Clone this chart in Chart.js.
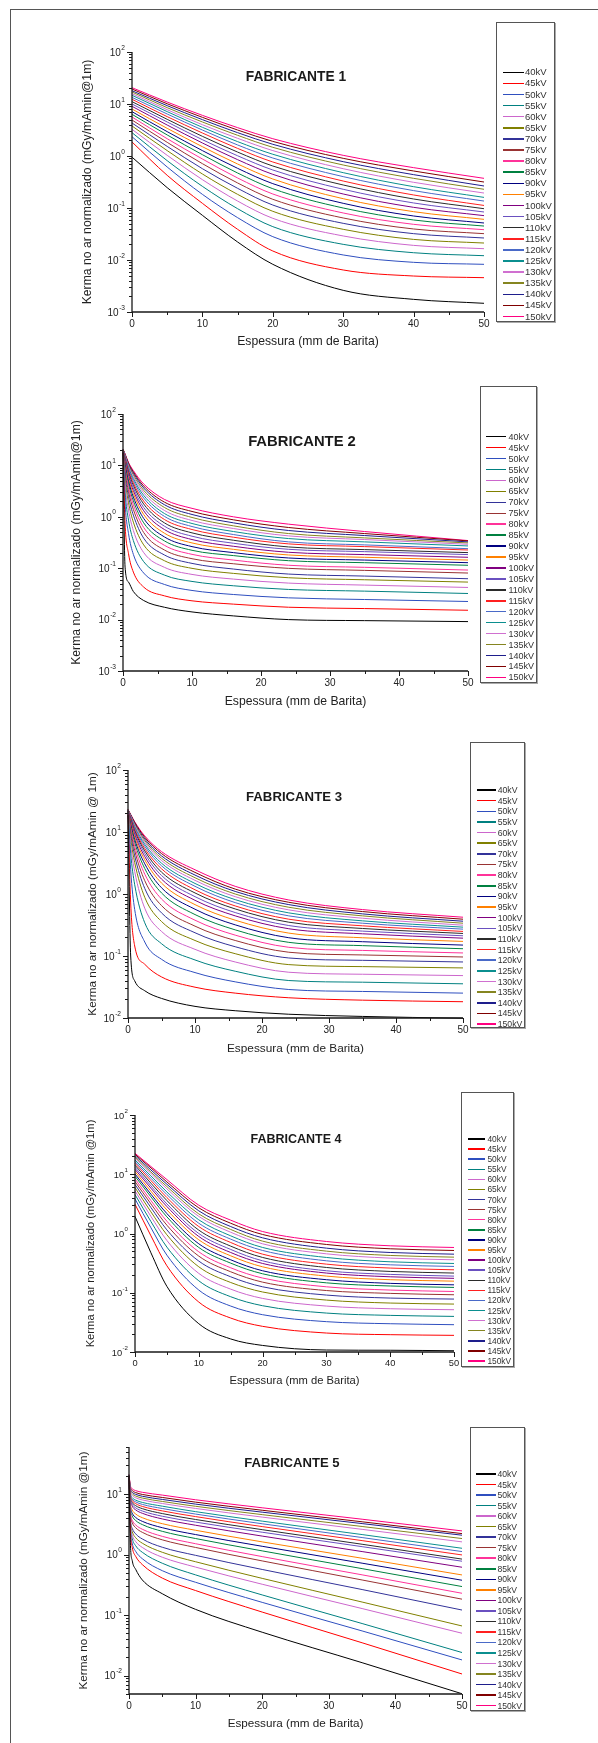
<!DOCTYPE html>
<html>
<head>
<meta charset="utf-8">
<script src="https://cdn.jsdelivr.net/npm/chart.js@4.4.1/dist/chart.umd.min.js"></script>
<style>
  html, body { margin: 0; padding: 0; background: #fff; }
  body { width: 598px; height: 1743px; position: relative; overflow: hidden;
         font-family: "Liberation Sans", Arial, Helvetica, sans-serif; }
  #moldura { position: absolute; left: 10px; top: 9px; width: 620px; height: 1800px;
             border-left: 1.5px solid #555; border-top: 1.5px solid #555; }
  canvas { position: absolute; }
  .titulo { position: absolute; font-weight: bold; color: #1a1a1a; white-space: nowrap;
            transform: translate(-50%, -50%); line-height: 1; }
  .legenda { position: absolute; border: 1.5px solid #555; box-sizing: border-box; background: #fff;
             box-shadow: 1px 1px 0 #aaa; }
  .leg-txt { position: absolute; white-space: nowrap; color: #333; line-height: 1; transform: translateY(-50%); }
  .leg-lin { position: absolute; height: 1.5px; }
</style>
</head>
<body>
<div id="moldura"></div>
<script>
// ---- dados ----

const kvRotulos = ['40kV','45kV','50kV','55kV','60kV','65kV','70kV','75kV','80kV','85kV','90kV','95kV',
                   '100kV','105kV','110kV','115kV','120kV','125kV','130kV','135kV','140kV','145kV','150kV'];
const kvCores = ['#000000','#ff0000','#2f4fbf','#008080','#cc66cc','#808000','#333399','#993333',
                 '#ff3399','#008040','#000080','#ff8000','#800080','#6a50c0','#2b2b2b','#ff2020',
                 '#4a6ac8','#0b8f8f','#d070d0','#858520','#1e1e8c','#800000','#ff0080'];

const espessuraRotulos = [0, 10, 20, 30, 40, 50];

// FABRICANTE 1
const fab1Espessura = [0, 5, 10, 15, 20, 30, 40, 50];
const fab1Kerma = [
  [0.95, 0.246, 0.0723, 0.0222, 0.00826, 0.00261, 0.00175, 0.00147], // 40kV
  [1.86, 0.425, 0.123, 0.0389, 0.0149, 0.00643, 0.00492, 0.00457],
  [2.35, 0.614, 0.183, 0.0652, 0.0281, 0.0125, 0.00902, 0.00826],
  [2.81, 0.813, 0.261, 0.097, 0.0438, 0.02, 0.0138, 0.0121],
  [3.26, 1.03, 0.351, 0.136, 0.0633, 0.029, 0.0191, 0.0165],
  [3.78, 1.27, 0.451, 0.183, 0.0863, 0.0389, 0.0249, 0.0212],
  [4.31, 1.53, 0.57, 0.239, 0.114, 0.0507, 0.0321, 0.0265],
  [4.92, 1.83, 0.712, 0.303, 0.147, 0.0643, 0.0395, 0.0321],
  [5.62, 2.15, 0.876, 0.378, 0.186, 0.0802, 0.0485, 0.0383],
  [6.33, 2.54, 1.06, 0.471, 0.235, 0.1, 0.0588, 0.045],
  [7.12, 2.94, 1.27, 0.579, 0.294, 0.123, 0.0702, 0.0515],
  [8.01, 3.4, 1.51, 0.702, 0.361, 0.151, 0.085, 0.0605],
  [9.02, 3.94, 1.78, 0.85, 0.444, 0.186, 0.103, 0.0713],   // 100kV
  [10.0, 4.51, 2.06, 1.01, 0.538, 0.229, 0.125, 0.0838],
  [11.1, 5.07, 2.39, 1.19, 0.642, 0.277, 0.149, 0.097],
  [12.3, 5.71, 2.77, 1.4, 0.767, 0.33, 0.178, 0.112],
  [13.4, 6.42, 3.16, 1.63, 0.915, 0.401, 0.216, 0.136],
  [14.7, 7.13, 3.56, 1.89, 1.08, 0.478, 0.257, 0.16],
  [15.8, 7.78, 4.0, 2.19, 1.27, 0.57, 0.312, 0.194],
  [17.0, 8.5, 4.51, 2.5, 1.47, 0.671, 0.372, 0.229],
  [18.0, 9.29, 5.0, 2.81, 1.68, 0.778, 0.438, 0.265],
  [19.4, 10.1, 5.54, 3.16, 1.91, 0.902, 0.515, 0.316],
  [20.6, 10.9, 6.05, 3.51, 2.15, 1.03, 0.597, 0.372]      // 150kV
];

// FABRICANTE 2
const fab2Espessura = [0, 0.3, 0.8, 1.5, 3, 6, 10, 16, 24, 35, 50];
const fab2Kerma = [
  [17.8, 0.105, 0.0537, 0.0352, 0.0235, 0.0174, 0.0141, 0.0118, 0.01, 0.00955, 0.00914], // 40kV
  [18.1, 0.741, 0.192, 0.0841, 0.0429, 0.029, 0.0232, 0.02, 0.0174, 0.0164, 0.0152],
  [18.1, 1.82, 0.472, 0.186, 0.0805, 0.0483, 0.0369, 0.0308, 0.0265, 0.0246, 0.0225],
  [18.4, 2.99, 0.861, 0.345, 0.134, 0.0735, 0.0553, 0.0455, 0.0386, 0.0358, 0.0322],
  [18.4, 4.16, 1.35, 0.541, 0.201, 0.104, 0.0757, 0.0614, 0.0513, 0.0469, 0.0422],
  [18.6, 5.37, 1.88, 0.787, 0.284, 0.14, 0.0993, 0.0793, 0.0652, 0.0596, 0.0537],
  [18.6, 6.52, 2.46, 1.08, 0.383, 0.181, 0.124, 0.0963, 0.0769, 0.0703, 0.0624],
  [18.9, 7.57, 3.08, 1.39, 0.494, 0.226, 0.153, 0.122, 0.0993, 0.0907, 0.0805],
  [18.9, 8.54, 3.69, 1.72, 0.619, 0.279, 0.186, 0.144, 0.114, 0.104, 0.092],
  [19.2, 9.49, 4.28, 2.05, 0.763, 0.34, 0.223, 0.176, 0.14, 0.128, 0.114],
  [19.2, 10.4, 4.91, 2.42, 0.928, 0.406, 0.263, 0.201, 0.158, 0.144, 0.128],
  [19.5, 11.2, 5.53, 2.82, 1.11, 0.48, 0.31, 0.233, 0.181, 0.163, 0.144],
  [19.5, 11.9, 6.14, 3.22, 1.31, 0.566, 0.361, 0.267, 0.204, 0.184, 0.163],   // 100kV
  [19.5, 12.6, 6.72, 3.63, 1.52, 0.657, 0.419, 0.306, 0.233, 0.21, 0.184],
  [19.8, 13.2, 7.35, 4.1, 1.77, 0.763, 0.487, 0.35, 0.259, 0.23, 0.201],
  [19.8, 13.8, 7.93, 4.55, 2.02, 0.887, 0.566, 0.401, 0.297, 0.263, 0.226],
  [20.1, 14.5, 8.54, 5.05, 2.32, 1.02, 0.647, 0.452, 0.325, 0.284, 0.24],
  [20.1, 14.9, 9.07, 5.53, 2.61, 1.16, 0.741, 0.517, 0.377, 0.325, 0.271],
  [20.1, 15.3, 9.63, 6.05, 2.94, 1.33, 0.848, 0.592, 0.425, 0.361, 0.292],
  [20.4, 15.8, 10.1, 6.52, 3.27, 1.52, 0.97, 0.667, 0.472, 0.389, 0.31],
  [20.4, 16.0, 10.5, 7.03, 3.63, 1.72, 1.11, 0.763, 0.541, 0.432, 0.325],
  [20.7, 16.5, 11.0, 7.46, 3.97, 1.93, 1.27, 0.874, 0.619, 0.472, 0.34],
  [20.7, 16.8, 11.4, 7.93, 4.35, 2.18, 1.46, 1.0, 0.719, 0.517, 0.345]       // 150kV
];

// FABRICANTE 3
const fab3Espessura = [0, 0.4, 1, 2.5, 5, 10, 16, 24, 35, 50];
const fab3Kerma = [
  [18.7, 0.1, 0.0397, 0.0275, 0.0207, 0.0154, 0.0131, 0.0115, 0.0106, 0.0099], // 40kV
  [19.4, 0.717, 0.145, 0.0735, 0.046, 0.0314, 0.0252, 0.0212, 0.0194, 0.0183],
  [19.9, 2.46, 0.561, 0.168, 0.0885, 0.054, 0.0383, 0.0288, 0.0268, 0.0252],
  [20.2, 4.55, 1.41, 0.343, 0.158, 0.0863, 0.0568, 0.0402, 0.0378, 0.0356],
  [20.4, 6.26, 2.31, 0.589, 0.249, 0.128, 0.0801, 0.0547, 0.0508, 0.0483],
  [20.7, 7.82, 3.22, 0.884, 0.36, 0.178, 0.109, 0.0726, 0.0674, 0.0642],
  [20.9, 9.18, 4.12, 1.23, 0.496, 0.237, 0.141, 0.0929, 0.0852, 0.0801],
  [21.2, 10.4, 5.02, 1.64, 0.65, 0.303, 0.178, 0.115, 0.104, 0.0964],
  [21.2, 11.5, 5.89, 2.09, 0.831, 0.378, 0.217, 0.138, 0.123, 0.112],
  [21.5, 12.5, 6.74, 2.58, 1.04, 0.466, 0.264, 0.166, 0.147, 0.131],
  [21.5, 13.4, 7.53, 3.07, 1.26, 0.568, 0.318, 0.197, 0.17, 0.15],
  [21.7, 14.3, 8.31, 3.56, 1.5, 0.674, 0.378, 0.234, 0.197, 0.172],
  [21.7, 15.0, 9.06, 4.02, 1.74, 0.791, 0.444, 0.275, 0.228, 0.194],   // 100kV
  [22.0, 15.6, 9.75, 4.49, 1.99, 0.906, 0.502, 0.31, 0.252, 0.212],
  [22.0, 16.2, 10.4, 4.96, 2.25, 1.04, 0.574, 0.351, 0.278, 0.231],
  [22.3, 16.8, 11.0, 5.4, 2.55, 1.17, 0.642, 0.392, 0.307, 0.249],
  [22.3, 17.2, 11.6, 5.89, 2.85, 1.33, 0.726, 0.444, 0.338, 0.271],
  [22.5, 17.6, 12.2, 6.34, 3.14, 1.48, 0.811, 0.496, 0.369, 0.292],
  [22.5, 18.1, 12.8, 6.83, 3.47, 1.66, 0.906, 0.554, 0.407, 0.314],
  [22.8, 18.3, 13.3, 7.26, 3.78, 1.83, 1.0, 0.611, 0.444, 0.338],
  [22.8, 18.7, 13.8, 7.72, 4.12, 2.02, 1.1, 0.674, 0.478, 0.364],
  [23.1, 19.0, 14.3, 8.21, 4.49, 2.23, 1.2, 0.735, 0.521, 0.392],
  [23.1, 19.2, 14.6, 8.63, 4.83, 2.46, 1.33, 0.801, 0.561, 0.422]      // 150kV
];

// FABRICANTE 4
const fab4Espessura = [0, 2.5, 5, 10, 15, 20, 30, 40, 50];
const fab4Kerma = [
  [1.94, 0.472, 0.128, 0.03, 0.0166, 0.0129, 0.0108, 0.0107, 0.0105], // 40kV
  [3.12, 0.913, 0.285, 0.0696, 0.0374, 0.0271, 0.0209, 0.0196, 0.0191],
  [3.84, 1.25, 0.431, 0.111, 0.0596, 0.0426, 0.0325, 0.03, 0.0289],
  [4.54, 1.59, 0.589, 0.159, 0.0857, 0.0604, 0.0454, 0.0415, 0.0399],
  [5.24, 1.94, 0.762, 0.212, 0.115, 0.0802, 0.0596, 0.0537, 0.0517],
  [5.96, 2.32, 0.95, 0.274, 0.149, 0.103, 0.0752, 0.067, 0.0644],
  [6.7, 2.74, 1.15, 0.342, 0.186, 0.126, 0.0914, 0.0813, 0.0782],
  [7.52, 3.16, 1.38, 0.415, 0.226, 0.151, 0.109, 0.0975, 0.0925],
  [8.34, 3.6, 1.61, 0.491, 0.264, 0.177, 0.126, 0.111, 0.105],
  [9.25, 4.15, 1.91, 0.581, 0.316, 0.209, 0.147, 0.13, 0.123],
  [10.1, 4.6, 2.17, 0.67, 0.36, 0.235, 0.166, 0.144, 0.136],
  [11.1, 5.17, 2.5, 0.782, 0.42, 0.274, 0.191, 0.166, 0.157],
  [12.1, 5.81, 2.85, 0.89, 0.478, 0.312, 0.215, 0.186, 0.175],   // 100kV
  [13.1, 6.36, 3.16, 1.0, 0.538, 0.346, 0.235, 0.204, 0.191],
  [14.2, 7.05, 3.6, 1.14, 0.612, 0.394, 0.267, 0.229, 0.215],
  [15.3, 7.82, 4.04, 1.31, 0.705, 0.448, 0.304, 0.261, 0.244],
  [16.3, 8.57, 4.54, 1.49, 0.803, 0.517, 0.346, 0.296, 0.278],
  [17.4, 9.38, 5.04, 1.7, 0.913, 0.581, 0.394, 0.333, 0.312],
  [18.6, 10.3, 5.66, 1.94, 1.05, 0.67, 0.454, 0.384, 0.36],
  [19.6, 10.9, 6.2, 2.14, 1.17, 0.743, 0.504, 0.426, 0.399],
  [20.6, 11.8, 6.78, 2.41, 1.31, 0.845, 0.566, 0.478, 0.448],
  [21.7, 12.8, 7.42, 2.71, 1.49, 0.962, 0.653, 0.552, 0.517],
  [22.6, 13.5, 8.13, 3.0, 1.68, 1.08, 0.733, 0.62, 0.581]      // 150kV
];

// FABRICANTE 5
const fab5Espessura = [0, 0.2, 0.5, 1, 2, 5, 10, 20, 35, 50];
const fab5Kerma = [
  [19.95, 1.6, 0.78, 0.57, 0.38, 0.225, 0.124, 0.052, 0.0163, 0.005], // 40kV
  [19.95, 2.53, 1.3, 0.935, 0.682, 0.408, 0.254, 0.112, 0.0348, 0.0106],
  [19.95, 2.74, 1.52, 1.13, 0.853, 0.541, 0.348, 0.162, 0.0546, 0.0181],
  [20.0, 3.12, 1.83, 1.4, 1.09, 0.718, 0.461, 0.215, 0.0724, 0.024],
  [20.0, 3.37, 2.09, 1.64, 1.31, 0.903, 0.62, 0.323, 0.128, 0.05],
  [20.1, 3.69, 2.37, 1.9, 1.54, 1.09, 0.76, 0.404, 0.164, 0.066],
  [20.1, 4.04, 2.69, 2.2, 1.81, 1.32, 0.97, 0.567, 0.264, 0.121],
  [20.2, 4.83, 3.34, 2.78, 2.33, 1.75, 1.31, 0.785, 0.38, 0.183],
  [20.2, 5.22, 3.68, 3.09, 2.62, 2.0, 1.51, 0.925, 0.462, 0.229],
  [20.3, 6.01, 4.32, 3.66, 3.13, 2.42, 1.84, 1.15, 0.585, 0.296],
  [20.3, 6.58, 4.81, 4.11, 3.54, 2.78, 2.14, 1.37, 0.72, 0.376],
  [20.4, 7.29, 5.43, 4.69, 4.07, 3.24, 2.52, 1.62, 0.869, 0.46],
  [20.4, 8.3, 6.3, 5.48, 4.81, 3.88, 3.05, 2.02, 1.12, 0.617],    // 100kV
  [20.5, 8.73, 6.75, 5.93, 5.25, 4.3, 3.44, 2.34, 1.35, 0.776],
  [20.5, 9.2, 7.24, 6.43, 5.74, 4.76, 3.8, 2.58, 1.48, 0.841],
  [20.6, 9.68, 7.76, 6.95, 6.25, 5.27, 4.24, 2.9, 1.7, 0.985],
  [20.6, 10.1, 8.22, 7.43, 6.75, 5.77, 4.67, 3.23, 1.91, 1.12],
  [20.7, 10.5, 8.71, 7.94, 7.28, 6.31, 5.12, 3.57, 2.14, 1.27],
  [20.7, 11.3, 9.48, 8.69, 8.0, 6.98, 5.78, 4.16, 2.61, 1.62],
  [20.7, 11.9, 10.1, 9.29, 8.59, 7.55, 6.28, 4.57, 2.91, 1.84],
  [20.8, 12.5, 10.7, 9.91, 9.2, 8.15, 6.82, 5.02, 3.25, 2.09],
  [20.9, 13.2, 11.4, 10.6, 9.86, 8.79, 7.35, 5.4, 3.48, 2.22],
  [20.9, 13.9, 12.2, 11.4, 10.7, 9.62, 8.05, 5.93, 3.84, 2.46]     // 150kV
];

// ---- desenho ----

const FONTE = '"Liberation Sans", Arial, Helvetica, sans-serif';
Chart.defaults.font.family = FONTE;
Chart.defaults.color = '#222';

// eixos estilo Origin: linhas, ticks maiores/menores e rotulos 10^n
const eixoOrigin = {
  id: 'eixoOrigin',
  afterDraw(chart, args, o) {
    const {ctx, chartArea: a, scales: {x, y}} = chart;
    ctx.save();
    ctx.strokeStyle = '#1a1a1a';
    ctx.lineWidth = 1;
    const e0 = Math.floor(Math.log10(y.min) + 1e-9);
    const e1 = Math.floor(Math.log10(y.max) + 1e-9);
    for (let e = e0; e <= e1; e++) {
      for (let m = 1; m <= 9; m++) {
        const v = m * Math.pow(10, e);
        if (v < y.min * 0.999 || v > y.max * 1.001) continue;
        const py = Math.round(y.getPixelForValue(v)) + 0.5;
        const len = m === 1 ? 5 : 3;
        ctx.beginPath(); ctx.moveTo(a.left - len, py); ctx.lineTo(a.left, py); ctx.stroke();
      }
    }
    for (let v = 0; v <= 50; v += 5) {
      const px = Math.round(x.getPixelForValue(v)) + 0.5;
      const len = espessuraRotulos.includes(v) ? 5 : 3;
      ctx.beginPath(); ctx.moveTo(px, a.bottom); ctx.lineTo(px, a.bottom + len); ctx.stroke();
    }
    ctx.lineWidth = 1.3;
    ctx.beginPath();
    ctx.moveTo(a.left, a.top); ctx.lineTo(a.left, a.bottom); ctx.lineTo(a.right, a.bottom);
    ctx.stroke();

    ctx.fillStyle = '#222';
    ctx.textBaseline = 'middle';
    ctx.textAlign = 'right';
    o.expoentes.forEach(e => {
      const py = y.getPixelForValue(Math.pow(10, e));
      const sup = String(e);
      ctx.font = (o.fonte * 0.66).toFixed(1) + 'px ' + FONTE;
      const ws = ctx.measureText(sup).width;
      const xr = a.left - 7;
      ctx.fillText(sup, xr, py - o.fonte * 0.42);
      ctx.font = o.fonte + 'px ' + FONTE;
      ctx.fillText('10', xr - ws - 0.5, py + 1);
    });
    ctx.restore();
  }
};

function montaPainel(p) {
  const cv = document.createElement('canvas');
  cv.width = p.cw; cv.height = p.ch;
  cv.style.left = p.cx + 'px';
  cv.style.top = p.cy + 'px';
  document.body.appendChild(cv);

  const datasets = p.kerma.map((serie, i) => ({
    label: kvRotulos[i],
    data: p.espessura.map((e, j) => ({x: e, y: serie[j]})),
    borderColor: kvCores[i],
    borderWidth: 1,
    pointRadius: 0,
    fill: false,
    cubicInterpolationMode: 'monotone',
    clip: 4
  }));

  new Chart(cv, {
    type: 'line',
    data: {datasets},
    options: {
      responsive: false,
      animation: false,
      devicePixelRatio: 1,
      events: [],
      layout: {padding: {left: 0, right: p.padR, top: p.padT, bottom: 0}},
      plugins: {
        legend: {display: false},
        tooltip: {enabled: false},
        eixoOrigin: {expoentes: p.expoentes, fonte: p.tickFs}
      },
      scales: {
        x: {
          type: 'linear', min: 0, max: 50,
          grid: {display: false, drawTicks: false},
          border: {display: false},
          ticks: {
            stepSize: 5, autoSkip: false, maxRotation: 0, padding: 6,
            font: {size: p.tickFs}, color: '#222',
            callback: v => espessuraRotulos.includes(v) ? String(v) : ''
          },
          title: {display: true, text: 'Espessura (mm de Barita)', color: '#222',
                  font: {size: p.tituloFs}, padding: 0},
          afterFit: s => { s.height = p.xH; }
        },
        y: {
          type: 'logarithmic', min: p.yMin, max: p.yMax,
          grid: {display: false, drawTicks: false},
          border: {display: false},
          ticks: {display: false},
          title: {display: true, text: p.yTitulo, color: '#222',
                  font: {size: p.tituloFs}, padding: 0},
          afterFit: s => { s.width = p.yW; }
        }
      }
    },
    plugins: [eixoOrigin]
  });

  const t = document.createElement('div');
  t.className = 'titulo';
  t.textContent = p.nome;
  t.style.left = p.nomeX + 'px';
  t.style.top = p.nomeY + 'px';
  t.style.fontSize = p.nomeFs + 'px';
  document.body.appendChild(t);

  const lg = p.leg;
  const caixa = document.createElement('div');
  caixa.className = 'legenda';
  Object.assign(caixa.style, {left: lg.x + 'px', top: lg.y + 'px', width: lg.w + 'px', height: lg.h + 'px'});
  document.body.appendChild(caixa);
  kvRotulos.forEach((r, i) => {
    const yc = lg.primeiro + i * lg.passo;
    const ln = document.createElement('div');
    ln.className = 'leg-lin';
    Object.assign(ln.style, {left: lg.l0 + 'px', top: (yc - 0.75) + 'px', width: (lg.l1 - lg.l0) + 'px',
                             background: kvCores[i]});
    document.body.appendChild(ln);
    const tx = document.createElement('div');
    tx.className = 'leg-txt';
    tx.textContent = r;
    Object.assign(tx.style, {left: lg.tx + 'px', top: yc + 'px', fontSize: lg.fs + 'px'});
    document.body.appendChild(tx);
  });
}

montaPainel({
  nome: 'FABRICANTE 1', nomeX: 296, nomeY: 77, nomeFs: 13.8,
  espessura: fab1Espessura, kerma: fab1Kerma,
  yMin: 1e-3, yMax: 100, expoentes: [-3, -2, -1, 0, 1, 2],
  yTitulo: 'Kerma no ar normalizado (mGy/mAmin@1m)',
  cx: 80, cy: 32, cw: 424, ch: 317, yW: 52, xH: 37, padT: 20, padR: 20,
  tickFs: 10, tituloFs: 12.2,
  leg: {x: 496, y: 22, w: 59, h: 300, primeiro: 72.3, passo: 11.1, l0: 503, l1: 523.5, tx: 525, fs: 9.5}
});
montaPainel({
  nome: 'FABRICANTE 2', nomeX: 302, nomeY: 441, nomeFs: 14.8,
  espessura: fab2Espessura, kerma: fab2Kerma,
  yMin: 1e-3, yMax: 100, expoentes: [-3, -2, -1, 0, 1, 2],
  yTitulo: 'Kerma no ar normalizado (mGy/mAmin@1m)',
  cx: 69, cy: 394, cw: 419, ch: 315, yW: 54, xH: 38, padT: 20, padR: 20,
  tickFs: 10, tituloFs: 12.2,
  leg: {x: 479.5, y: 386, w: 57.5, h: 296.5, primeiro: 436.7, passo: 10.94, l0: 486.3, l1: 506.5, tx: 508.4, fs: 9}
});
montaPainel({
  nome: 'FABRICANTE 3', nomeX: 294, nomeY: 797, nomeFs: 13.2,
  espessura: fab3Espessura, kerma: fab3Kerma,
  yMin: 1e-2, yMax: 100, expoentes: [-2, -1, 0, 1, 2],
  yTitulo: 'Kerma no ar normalizado (mGy/mAmin @ 1m)',
  cx: 86, cy: 750, cw: 397, ch: 306, yW: 42, xH: 38, padT: 20, padR: 20,
  tickFs: 10, tituloFs: 11.8,
  leg: {x: 470, y: 741.7, w: 55.3, h: 286.6, primeiro: 790, passo: 10.64, l0: 476.7, l1: 495.8, tx: 497.7, fs: 8.7}
});
montaPainel({
  nome: 'FABRICANTE 4', nomeX: 296, nomeY: 1139, nomeFs: 12.5,
  espessura: fab4Espessura, kerma: fab4Kerma,
  yMin: 1e-2, yMax: 100, expoentes: [-2, -1, 0, 1, 2],
  yTitulo: 'Kerma no ar normalizado (mGy/mAmin @1m)',
  cx: 84, cy: 1095, cw: 390, ch: 293, yW: 51, xH: 36, padT: 20, padR: 20,
  tickFs: 9.3, tituloFs: 11.2,
  leg: {x: 460.7, y: 1092.3, w: 53, h: 274.4, primeiro: 1139, passo: 10.09, l0: 467.6, l1: 485.5, tx: 487.4, fs: 8.4}
});
montaPainel({
  nome: 'FABRICANTE 5', nomeX: 292, nomeY: 1463, nomeFs: 13.1,
  espessura: fab5Espessura, kerma: fab5Kerma,
  yMin: 0.00495, yMax: 60, expoentes: [-2, -1, 0, 1],
  yTitulo: 'Kerma no ar normalizado (mGy/mAmin @1m)',
  cx: 77, cy: 1427, cw: 405, ch: 304, yW: 52, xH: 37, padT: 20, padR: 20,
  tickFs: 10, tituloFs: 11.7,
  leg: {x: 470, y: 1426.7, w: 55.3, h: 284.3, primeiro: 1474, passo: 10.53, l0: 476, l1: 495.8, tx: 497.5, fs: 8.6}
});
</script>
</body>
</html>
